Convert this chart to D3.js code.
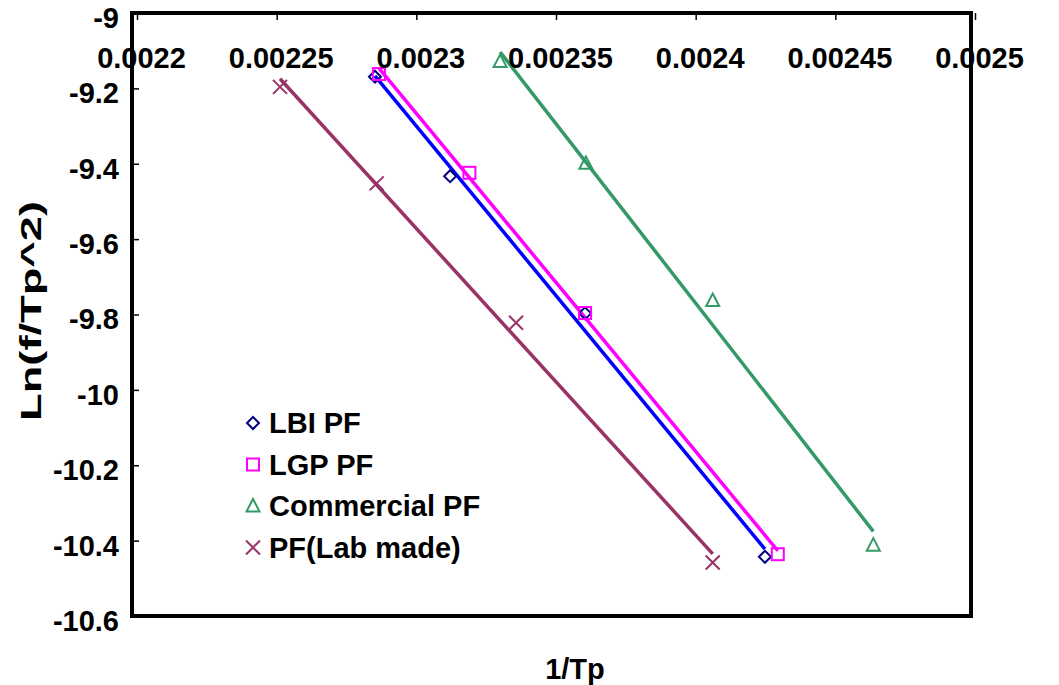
<!DOCTYPE html>
<html>
<head>
<meta charset="utf-8">
<script src="https://cdn.jsdelivr.net/npm/d3@7"></script>
<style>
  body { margin: 0; background: #fff; }
  text { font-family: "Liberation Sans", Arial, sans-serif; font-weight: bold; }
</style>
</head>
<body>
<div id="chart"></div>
<script>
// series names, in legend order
let seriesNames = ["LBI PF", "LGP PF", "Commercial PF", "PF(Lab made)"];

// 1/Tp values for each series
let xLBI = [0.0022852, 0.0023121, 0.0023604, 0.0024248];
let xLGP = [0.0022866, 0.0023190, 0.0023604, 0.0024294];
let xCommercial = [0.0023300, 0.0023607, 0.0024061, 0.0024636];
let xLab = [0.0022512, 0.0022858, 0.0023357, 0.0024061];

// Ln(f/Tp^2) values for each series
let yLBI = [-9.169, -9.433, -9.797, -10.443];
let yLGP = [-9.162, -9.424, -9.796, -10.436];
let yCommercial = [-9.129, -9.399, -9.763, -10.412];
let yLab = [-9.196, -9.452, -9.822, -10.458];

// tick values
let xTicks = [0.0022, 0.00225, 0.0023, 0.00235, 0.0024, 0.00245, 0.0025];
let yTicks = [-9, -9.2, -9.4, -9.6, -9.8, -10, -10.2, -10.4, -10.6];

let series = [
    {name: seriesNames[0], xs: xLBI, ys: yLBI, marker: "diamond", mColor: "#000080", lColor: "#0000ff"},
    {name: seriesNames[1], xs: xLGP, ys: yLGP, marker: "square", mColor: "#ff00ff", lColor: "#ff00ff"},
    {name: seriesNames[2], xs: xCommercial, ys: yCommercial, marker: "triangle", mColor: "#339966", lColor: "#339966"},
    {name: seriesNames[3], xs: xLab, ys: yLab, marker: "cross", mColor: "#993366", lColor: "#993366"}
];

let width = 1059, height = 685;
let plot = {left: 132, right: 971, top: 13, bottom: 616};
let fontSize = 29;

let svg = d3.select("#chart").append("svg")
    .attr("width", width)
    .attr("height", height);

let x = d3.scaleLinear().domain([0.0022, 0.0025]).range([137, 975]);
let y = d3.scaleLinear().domain([-10.6, -9]).range([plot.bottom, plot.top]);

// least squares trendline, like the spreadsheet's linear trendline
function fit(xs, ys) {
    let mx = d3.mean(xs), my = d3.mean(ys);
    let num = d3.sum(xs, (v, i) => (v - mx) * (ys[i] - my));
    let den = d3.sum(xs, v => (v - mx) * (v - mx));
    let b = num / den;
    let a = my - b * mx;
    let x0 = d3.min(xs), x1 = d3.max(xs);
    return [[x0, a + b * x0], [x1, a + b * x1]];
}

// trendlines
series.forEach(s => {
    let pts = fit(s.xs, s.ys);
    svg.append("line")
        .attr("x1", x(pts[0][0])).attr("y1", y(pts[0][1]))
        .attr("x2", x(pts[1][0])).attr("y2", y(pts[1][1]))
        .attr("stroke", s.lColor)
        .attr("stroke-width", 3.5);
});

// marker shapes
function drawMarker(g, type, color) {
    if (type === "diamond") {
        g.append("path").attr("d", "M0,-6L6,0L0,6L-6,0Z");
    } else if (type === "square") {
        g.append("rect").attr("x", -6).attr("y", -6).attr("width", 12).attr("height", 12);
    } else if (type === "triangle") {
        g.append("path").attr("d", "M0,-7L6.5,5.5L-6.5,5.5Z");
    } else {
        g.append("path").attr("d", "M-7,-7L7,7M-7,7L7,-7");
    }
    g.selectAll("*")
        .attr("fill", "none")
        .attr("stroke", color)
        .attr("stroke-width", 2);
}

series.forEach(s => {
    s.xs.forEach((v, i) => {
        let g = svg.append("g")
            .attr("transform", `translate(${x(v)},${y(s.ys[i])})`);
        drawMarker(g, s.marker, s.mColor);
    });
});

// plot frame
svg.append("rect")
    .attr("x", plot.left).attr("y", plot.top)
    .attr("width", plot.right - plot.left)
    .attr("height", plot.bottom - plot.top)
    .attr("fill", "none")
    .attr("stroke", "black")
    .attr("stroke-width", 4);

// x axis sits at the top (y = -9), ticks point inward
let xAxis = svg.append("g")
    .attr("transform", `translate(0,${plot.top})`)
    .call(d3.axisBottom(x).tickValues(xTicks).tickSize(7).tickPadding(27)
        .tickFormat(d => String(+d.toFixed(5))));
xAxis.select(".domain").remove();
xAxis.selectAll(".tick line").attr("stroke", "black").attr("stroke-width", 1.5);
xAxis.selectAll(".tick text")
    .attr("font-size", fontSize)
    .attr("dx", 4)
    .attr("fill", "black")
    .style("font-family", "'Liberation Sans', Arial, sans-serif")
    .style("font-weight", "bold");

// y axis on the left, ticks point inward
let yAxis = svg.append("g")
    .attr("transform", `translate(${plot.left},0)`)
    .call(d3.axisRight(y).tickValues(yTicks).tickSize(7).tickFormat(d => String(d)));
yAxis.select(".domain").remove();
yAxis.selectAll(".tick line").attr("stroke", "black").attr("stroke-width", 1.5);
yAxis.selectAll(".tick text")
    .attr("x", -13)
    .attr("y", 4)
    .attr("dy", "0.36em")
    .attr("text-anchor", "end")
    .attr("font-size", fontSize)
    .attr("fill", "black")
    .style("font-family", "'Liberation Sans', Arial, sans-serif")
    .style("font-weight", "bold");

// axis titles
svg.append("text")
    .attr("x", 575).attr("y", 679)
    .attr("text-anchor", "middle")
    .attr("font-size", fontSize)
    .text("1/Tp");

svg.append("text")
    .attr("transform", "translate(41,311) rotate(-90)")
    .attr("text-anchor", "middle")
    .attr("font-size", 30)
    .attr("textLength", 220)
    .attr("lengthAdjust", "spacingAndGlyphs")
    .text("Ln(f/Tp^2)");

// legend
let legend = svg.append("g").attr("transform", "translate(253,423)");
series.forEach((s, i) => {
    let row = legend.append("g").attr("transform", `translate(0,${i * 41.5})`);
    drawMarker(row.append("g"), s.marker, s.mColor);
    row.append("text")
        .attr("x", 16).attr("y", 10)
        .attr("font-size", fontSize)
        .text(s.name);
});
</script>
</body>
</html>
